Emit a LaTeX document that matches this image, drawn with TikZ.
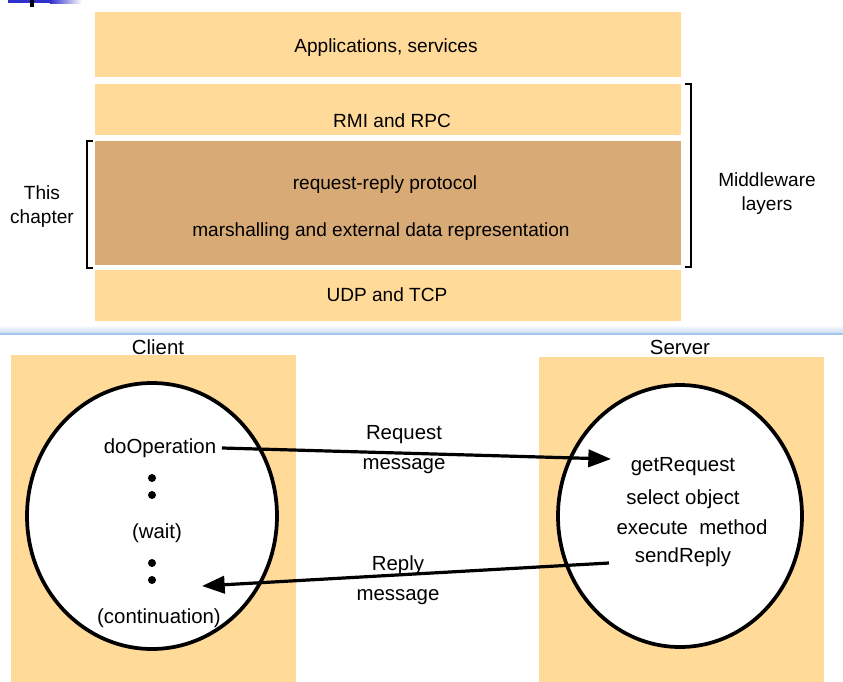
\documentclass[tikz,border=0pt]{standalone}
\usepackage{fontspec}
\setmainfont{Liberation Sans}
\usetikzlibrary{arrows.meta}
\definecolor{layerfill}{RGB}{255,218,152}
\definecolor{ourlayer}{RGB}{216,170,118}
\definecolor{divblue}{RGB}{165,198,236}
\definecolor{slideblue}{RGB}{48,48,204}
\tikzset{every picture/.style={line width=0.75pt}}

\begin{document}
\begin{tikzpicture}[x=0.75pt,y=0.75pt,yscale=-1,xscale=1,
	layer/.style={fill=layerfill, draw=none},
	lbl/.style={font=\fontsize{14.3pt}{18pt}\selectfont, align=center, inner sep=0pt},
	big/.style={font=\fontsize{15.3pt}{22.5pt}\selectfont, align=center, inner sep=0pt},
	msg/.style={line width=2.4pt, -{Triangle[length=17pt,width=13pt]}},
	proc/.style={draw, line width=2.8pt, fill=white},
	brk/.style={line width=1.6pt}]
	\useasboundingbox (0,0) rectangle (843,682);

	%Shape: Slide bar
	\fill [slideblue] (8,0) rectangle (50,3) ;
	\shade [left color=slideblue, right color=white] (50,0) rectangle (82,3) ;
	\fill [black] (30,0) rectangle (34,7) ;

	%Shape: Rectangle
	\fill [layer] (95,12) rectangle (681,77) ;
	%Shape: Rectangle
	\fill [layer] (95,84) rectangle (681,135) ;
	%Shape: Rectangle
	\fill [ourlayer] (95,141) rectangle (681,265) ;
	%Shape: Rectangle
	\fill [layer] (95,270) rectangle (681,321) ;

	%Straight Lines
	\draw [brk] (685,84) -- (691,84) -- (691,267) -- (685,267) ;
	%Straight Lines
	\draw [brk] (93,141) -- (87,141) -- (87,268) -- (93,268) ;

	%Shape: Divider
	\shade [top color=white, bottom color=divblue!60] (0,325) rectangle (843,333) ;
	\draw [divblue, line width=1.2pt] (0,334) -- (843,334) ;

	%Shape: Rectangle
	\fill [layer] (11,355) rectangle (296,682) ;
	%Shape: Rectangle
	\fill [layer] (539,357) rectangle (824,682) ;

	%Shape: Ellipse
	\draw [proc] (152,516) ellipse (125 and 133) ;
	%Shape: Ellipse
	\draw [proc] (680,516) ellipse (122 and 131) ;

	%Shape: Circle
	\foreach \y in {478,495,563,580}
		\fill (152,\y) circle (4) ;

	% Text Node
	\node [lbl] (apps) at (386,48) {Applications, services};
	% Text Node
	\node [lbl] (rmi) at (392,121) {RMI and RPC};
	% Text Node
	\node [lbl] (reqrep) at (385,185) {request-reply protocol};
	% Text Node
	\node [lbl] (marsh) at (381,232) {marshalling and external data representation};
	% Text Node
	\node [lbl] (udp) at (387,295) {UDP and TCP};
	% Text Node
	\node [lbl] (chapter) at (42,207) {This\\chapter};
	% Text Node
	\node [lbl] (mware) at (767,194) {Middleware\\layers};

	% Text Node
	\node [big] (client) at (158,347) {Client};
	% Text Node
	\node [big] (server) at (680,347) {Server};
	% Text Node
	\node [big, inner sep=4pt] (doop) at (160,448) {doOperation};
	% Text Node
	\node [big] (wait) at (157,533) {(wait)};
	% Text Node
	\node [big] (cont) at (159,618) {(continuation)};
	% Text Node
	\node [big] (getreq) at (683,467) {getRequest};
	% Text Node
	\node [big] (selobj) at (683,499) {select object};
	% Text Node
	\node [big] (exec) at (692,527) {execute\ \ method};
	% Text Node
	\node [big] (sendrep) at (683,557) {sendReply};
	% Text Node
	\node [big] (reqmsg) at (404,450) {Request\\message};
	% Text Node
	\node [big] (repmsg) at (398,580) {Reply\\message};

	\coordinate (reqtip) at (611,459) ;
	\coordinate (repstart) at (609,563) ;
	\coordinate (reptip) at (202,586) ;

	%Straight Lines
	\draw [msg] (doop.east) -- (reqtip) ;
	%Straight Lines
	\draw [msg] (repstart) -- (reptip) ;

\end{tikzpicture}
\end{document}
